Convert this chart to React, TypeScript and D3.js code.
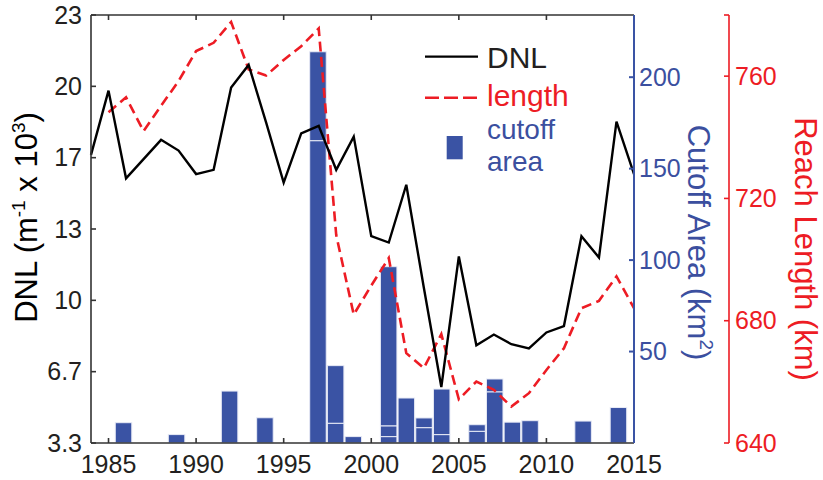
import React from 'react';
import * as d3 from 'd3';

// ---------- data ----------
const dnlYears = [1984, 1985, 1986, 1987, 1988, 1989, 1990, 1991, 1992, 1993, 1994, 1995, 1996, 1997, 1998, 1999,
  2000, 2001, 2002, 2003, 2004, 2005, 2006, 2007, 2008, 2009, 2010, 2011, 2012, 2013, 2014, 2015];
const dnlValues = [16.8, 19.8, 15.7, 16.6, 17.5, 17.0, 15.9, 16.1, 19.95, 21.0, 18.3, 15.5, 17.8, 18.15, 16.1, 17.65,
  13.0, 12.7, 15.4, 10.6, 5.95, 12.05, 7.9, 8.4, 7.95, 7.75, 8.5, 8.8, 13.0, 12.0, 18.35, 15.9];

const lengthYears = [1985, 1986, 1987, 1988, 1989, 1990, 1991, 1992, 1993, 1994, 1995, 1996, 1997, 1998, 1999,
  2000, 2001, 2002, 2003, 2004, 2005, 2006, 2007, 2008, 2009, 2010, 2011, 2012, 2013, 2014, 2015];
const lengthValues = [748.2, 753.1, 742.0, 750.3, 758.4, 768.2, 770.9, 777.7, 762.2, 760.2, 765.3, 769.8, 775.6, 708.0, 682.0,
  691.5, 700.5, 669.4, 664.5, 675.6, 654.3, 660.1, 657.4, 651.9, 656.3, 663.9, 671.0, 684.1, 686.5, 694.5, 684.1];

// individual cutoff events (stacked within a year, in order from bottom)
const cutoffYears = [1986, 1989, 1992, 1994, 1997, 1997, 1998, 1998, 1999, 2001, 2001, 2001, 2002, 2003, 2003,
  2004, 2004, 2006, 2006, 2007, 2007, 2008, 2009, 2012, 2014];
const cutoffAreas = [11.1, 4.6, 28.4, 13.8, 165.3, 48.6, 10.8, 31.5, 3.5, 3.5, 5.9, 87.0, 24.6, 8.4, 5.3,
  4.6, 24.9, 6.4, 3.6, 28.0, 7.0, 11.4, 12.2, 12.0, 19.4];

const yearTicks = [1985, 1990, 1995, 2000, 2005, 2010, 2015];
const dnlTicks = [10 / 3, 20 / 3, 10, 40 / 3, 50 / 3, 20, 70 / 3];
const dnlTickLabels = ['3.3', '6.7', '10', '13', '17', '20', '23'];
const areaTicks = [50, 100, 150, 200];
const lengthTicks = [640, 680, 720, 760];

// ---------- layout ----------
const W = 823, H = 480;
const L = 91, R = 634, T = 15, B = 443;
const RED_AXIS_X = 729;
const BLUE = '#3a53a4';
const BLUE_TXT = '#3b4f9f';
const RED = '#ed1c24';
const FONT = '"Liberation Sans", Arial, Helvetica, sans-serif';
const TICK_FS = 25;
const TITLE_FS = 31;

export default function App() {
  const x = d3.scaleLinear().domain([1984, 2015]).range([L, R]);
  const xBar = d3.scaleLinear().domain([1984.16, 2014.88]).range([L, R]);
  const yDnl = d3.scaleLinear().domain([10 / 3, 70 / 3]).range([B, T]);
  const yArea = d3.scaleLinear().domain([0, 234]).range([B, T]);
  const yLen = d3.scaleLinear().domain([640, 780]).range([B, T]);

  const dnlLine = d3.line<number>().x((_, i) => x(dnlYears[i])).y((d) => yDnl(d))(dnlValues) || '';
  const lenLine = d3.line<number>().x((_, i) => x(lengthYears[i])).y((d) => yLen(d))(lengthValues) || '';

  // stacking of cutoff events
  const cum: Record<number, number> = {};
  const segs = cutoffYears.map((yr, i) => {
    const base = cum[yr] || 0;
    const top = base + cutoffAreas[i];
    cum[yr] = top;
    return { yr, base, top };
  });
  const barW = xBar(1984.16 + 0.935) - xBar(1984.16);

  return (
    <svg width={W} height={H} style={{ position: 'absolute', left: 0, top: 0, background: '#fff' }} fontFamily={FONT}>
      {/* bars */}
      <g>
        {segs.map((s, i) => (
          <rect key={i} x={xBar(s.yr) - barW / 2} width={barW} y={yArea(s.top)} height={yArea(s.base) - yArea(s.top)}
            fill={BLUE} stroke="#e8ebf6" strokeWidth={1} />
        ))}
      </g>

      {/* length dashed line */}
      <path d={lenLine} fill="none" stroke={RED} strokeWidth={2.6} strokeDasharray="10,5.5" />
      {/* DNL line */}
      <path d={dnlLine} fill="none" stroke="#000" strokeWidth={2.4} strokeLinejoin="miter" />

      {/* black box axes */}
      <g stroke="#333" strokeWidth={1.6} fill="none">
        <line x1={L} y1={T} x2={R} y2={T} />
        <line x1={L} y1={B} x2={R} y2={B} />
        <line x1={L} y1={T} x2={L} y2={B} />
        {yearTicks.filter((t) => t < 2015).map((t) => (
          <g key={t}>
            <line x1={x(t)} x2={x(t)} y1={B} y2={B - 5} />
            <line x1={x(t)} x2={x(t)} y1={T} y2={T + 5} />
          </g>
        ))}
        {dnlTicks.map((t, i) => (
          <line key={i} x1={L} x2={L + 5} y1={yDnl(t)} y2={yDnl(t)} />
        ))}
      </g>
      {yearTicks.map((t) => (
        <text key={t} x={x(t)} y={473} textAnchor="middle" fontSize={TICK_FS} fill="#231f20">{t}</text>
      ))}
      {dnlTicks.map((t, i) => (
        <text key={i} x={82} y={yDnl(t)} dy="0.35em" textAnchor="end" fontSize={TICK_FS} fill="#231f20">{dnlTickLabels[i]}</text>
      ))}
      <text transform={`translate(37,${217.5}) rotate(-90)`} textAnchor="middle" fontSize={TITLE_FS} fill="#000">
        DNL (m<tspan fontSize={19} dy={-12}>-1</tspan><tspan dy={12}> x 10</tspan><tspan fontSize={19} dy={-12}>3</tspan><tspan dy={12}>)</tspan>
      </text>

      {/* blue axis */}
      <g stroke={BLUE} strokeWidth={2} fill="none">
        <line x1={R} y1={T} x2={R} y2={B} />
        {areaTicks.map((t) => (
          <line key={t} x1={R - 5} x2={R} y1={yArea(t)} y2={yArea(t)} />
        ))}
      </g>
      {areaTicks.map((t) => (
        <text key={t} x={639} y={yArea(t)} dy="0.35em" fontSize={TICK_FS} fill={BLUE_TXT}>{t}</text>
      ))}
      <text transform={`translate(688,${242.5}) rotate(90)`} textAnchor="middle" fontSize={TITLE_FS} fill={BLUE_TXT}>
        Cutoff Area (km<tspan fontSize={19} dy={-12}>2</tspan><tspan dy={12}>)</tspan>
      </text>

      {/* red axis */}
      <g stroke={RED} strokeWidth={1.6} fill="none">
        <line x1={RED_AXIS_X} y1={T} x2={RED_AXIS_X} y2={B} />
        {[...lengthTicks, 780].map((t) => (
          <line key={t} x1={RED_AXIS_X - 5} x2={RED_AXIS_X} y1={yLen(t)} y2={yLen(t)} />
        ))}
      </g>
      {lengthTicks.map((t) => (
        <text key={t} x={735} y={yLen(t)} dy="0.35em" fontSize={TICK_FS} fill={RED}>{t}</text>
      ))}
      <text transform={`translate(795,${249}) rotate(90)`} textAnchor="middle" fontSize={TITLE_FS} fill={RED}>
        Reach Length (km)
      </text>

      {/* legend */}
      <g>
        <line x1={425} x2={478} y1={56.7} y2={56.7} stroke="#000" strokeWidth={2.2} />
        <text x={487} y={68} fontSize={30} fill="#231f20">DNL</text>
        <line x1={425} x2={478} y1={97.7} y2={97.7} stroke={RED} strokeWidth={2.6} strokeDasharray="14,5" />
        <text x={487} y={106} fontSize={30} fill={RED}>length</text>
        <rect x={446.7} y={136} width={16} height={23.3} fill={BLUE} />
        <text x={487} y={139} fontSize={28} fill={BLUE_TXT}>cutoff</text>
        <text x={487} y={171} fontSize={28} fill={BLUE_TXT}>area</text>
      </g>
    </svg>
  );
}
